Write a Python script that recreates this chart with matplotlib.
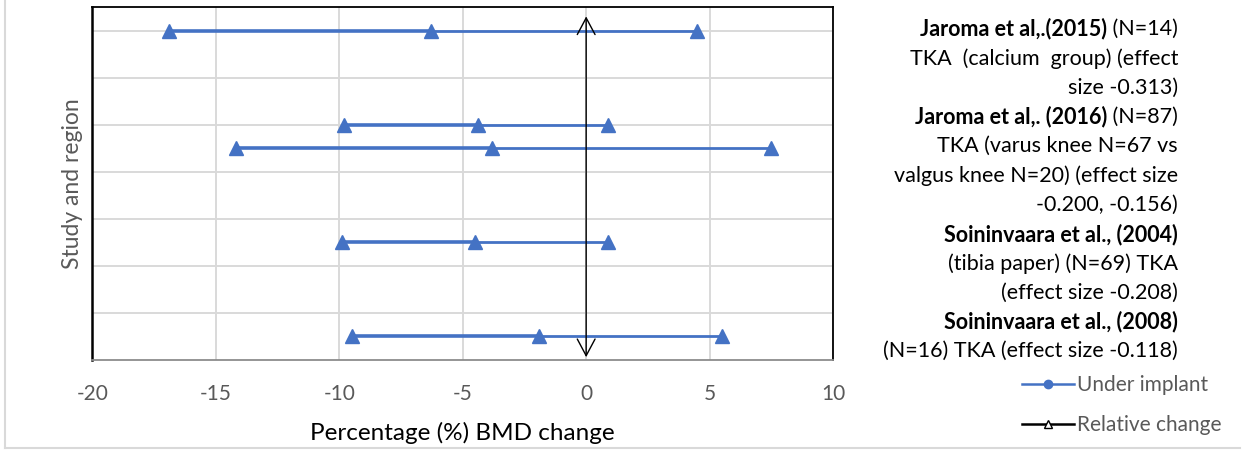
import matplotlib
matplotlib.use("Agg")
import matplotlib.pyplot as plt
from matplotlib.lines import Line2D

# values (percent BMD change)
row_pos = [7, 5, 4.5, 2.5, 0.5]
low = [-16.9, -9.8, -14.2, -9.9, -9.5]
mean = [-6.3, -4.4, -3.8, -4.5, -1.9]
high = [4.5, 0.9, 7.5, 0.9, 5.5]

xticks = [-20, -15, -10, -5, 0, 5, 10]
arrow_span = (0.06, 7.3)

# right-hand study descriptions: (bold part, regular part) per line
study_lines = [
    ("Jaroma et al,.(2015)", " (N=14)"),
    ("", "TKA  (calcium  group) (effect"),
    ("", "size -0.313)"),
    ("Jaroma et al,. (2016)", " (N=87)"),
    ("", "TKA (varus knee N=67 vs"),
    ("", "valgus knee N=20) (effect size"),
    ("", "-0.200, -0.156)"),
    ("Soininvaara et al., (2004)", ""),
    ("", "(tibia paper) (N=69) TKA"),
    ("", "(effect size -0.208)"),
    ("Soininvaara et al., (2008)", ""),
    ("", "(N=16) TKA (effect size -0.118)"),
]

blue = "#4472C4"
grey = "#595959"
plt.rcParams["font.family"] = ["Lato", "DejaVu Sans"]
plt.rcParams["axes.unicode_minus"] = False

W, H = 1245, 450
fig = plt.figure(figsize=(W / 100, H / 100), dpi=100)
ax = fig.add_axes([92.5 / W, 90 / H, (833 - 92.5) / W, (360 - 7) / H])

for y, lo, m, hi in zip(row_pos, low, mean, high):
    ax.plot([lo, m], [y, y], color=blue, lw=2.6, solid_capstyle="butt", zorder=3)
    ax.plot([m, hi], [y, y], color=blue, lw=2.0, solid_capstyle="butt", zorder=3)
    ax.plot([lo, m, hi], [y, y, y], ls="none", marker="^", ms=10.5,
            color=blue, zorder=4)

ax.annotate("", xy=(0, arrow_span[1]), xytext=(0, arrow_span[0]),
            arrowprops=dict(arrowstyle="<->,head_length=0.6,head_width=0.32",
                            color="black", lw=1, mutation_scale=20,
                            shrinkA=0, shrinkB=0), zorder=5)

ax.set_xlim(-20, 10)
ax.set_ylim(0, 7.5)
ax.set_xticks(xticks)
ax.set_yticks(range(1, 8))
ax.set_yticklabels([])
ax.grid(True, color="#d9d9d9", lw=1.4)
ax.set_axisbelow(True)
ax.tick_params(length=0, pad=17, labelsize=15, labelcolor=grey)
for s in ["top", "right", "left"]:
    ax.spines[s].set_color("black")
    ax.spines[s].set_linewidth(1.3)
ax.spines["left"].set_linewidth(1.8)
ax.spines["bottom"].set_color("#8c8c8c")
ax.spines["bottom"].set_linewidth(1.3)

ax.set_xlabel("Percentage (%) BMD change", fontsize=17.5, color="black", labelpad=13)
ax.set_ylabel("Study and region", fontsize=16.5, color=grey)
ax.yaxis.set_label_coords(-0.013, 0.5)

# right-aligned mixed bold / regular description block
fig.canvas.draw()
r = fig.canvas.get_renderer()
x_right = 1178 / W
y0, dy = 29, 29.3
for i, (b, t) in enumerate(study_lines):
    yf = 1 - (y0 + i * dy) / H
    xr = x_right
    if t:
        tx = fig.text(xr, yf, t, ha="right", va="center", fontsize=15.5, color="black")
        bb = tx.get_window_extent(renderer=r)
        xr = bb.x0 / W
    if b:
        fig.text(xr, yf, b, ha="right", va="center", fontsize=15.5,
                 fontweight="bold", color="black")

handles = [
    Line2D([], [], color=blue, lw=1.8, marker="o", ms=6),
    Line2D([], [], color="black", lw=1.8, marker="^", ms=6,
           markerfacecolor="white", markeredgecolor="black"),
]
fig.legend(handles, ["Under implant", "Relative change"], loc="upper left",
           bbox_to_anchor=(1022 / W, 1 - 375 / H), frameon=False,
           fontsize=15, labelcolor=grey, handlelength=2.5, handletextpad=0.12,
           labelspacing=0.95, borderaxespad=0, borderpad=0)

# light outer frame
fig.add_artist(Line2D([5 / W, 5 / W], [2 / H, 1], color="#d9d9d9", lw=1.5))
fig.add_artist(Line2D([5 / W, 1240 / W], [2 / H, 2 / H], color="#d9d9d9", lw=1.5))

fig.savefig("out.png", dpi=100)
